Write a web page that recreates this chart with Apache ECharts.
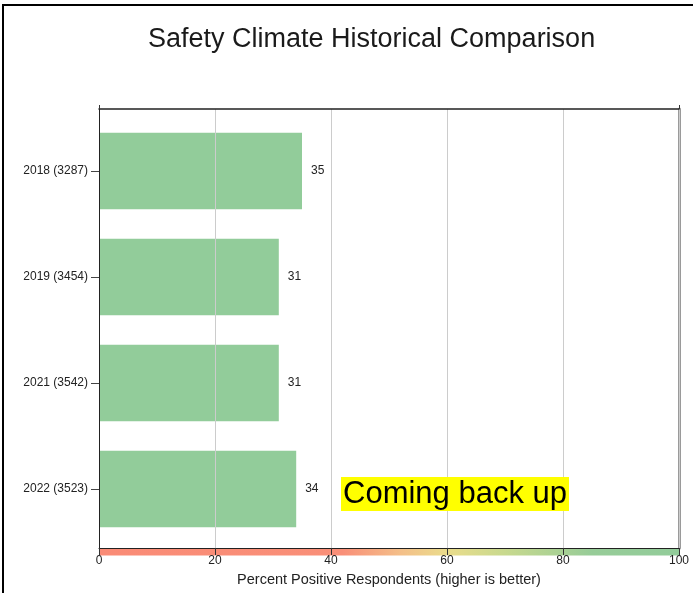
<!DOCTYPE html>
<html>
<head>
<meta charset="utf-8">
<script src="https://cdn.jsdelivr.net/npm/echarts@6/dist/echarts.min.js"></script>
<style>
  html, body { margin: 0; padding: 0; background: #fff; }
  #chart { width: 693px; height: 593px; }
</style>
</head>
<body>
<div id="chart"></div>
<script>
// Survey years with respondent counts, and percent positive per year
const categories = ['2018 (3287)', '2019 (3454)', '2021 (3542)', '2022 (3523)'];
const percentPositive = [35, 31, 31, 34];
const xTicks = [0, 20, 40, 60, 80, 100];

const FONT = '"Liberation Sans", Arial, sans-serif';
const chart = echarts.init(document.getElementById('chart'), null, { renderer: 'canvas' });

function scaleGradient() {
  return new echarts.graphic.LinearGradient(0, 0, 1, 0, [
    { offset: 0.0, color: '#fa8b76' },
    { offset: 0.42, color: '#f98f78' },
    { offset: 0.52, color: '#f4bf89' },
    { offset: 0.60, color: '#eadc8b' },
    { offset: 0.70, color: '#c8d98e' },
    { offset: 0.85, color: '#97cc98' },
    { offset: 1.0, color: '#92cc9a' }
  ]);
}

chart.setOption({
  animation: false,
  backgroundColor: '#fff',
  textStyle: { fontFamily: FONT },
  title: {
    text: 'Safety Climate Historical Comparison',
    left: 143,
    top: 21,
    textStyle: { fontFamily: FONT, fontSize: 27, fontWeight: 'normal', color: '#1a1a1a' }
  },
  grid: [
    // frame grid: axis lines, grid lines and colour strip
    { left: 99, right: 14, top: 109, bottom: 45, containLabel: false },
    // inner grid holding the bars
    { left: 99, right: 14, top: 118, bottom: 51, containLabel: false }
  ],
  xAxis: [
    {
      type: 'value',
      gridIndex: 0,
      position: 'bottom',
      min: 0, max: 100, interval: 20,
      axisLine: { show: true, onZero: false, lineStyle: { color: '#222', width: 1 } },
      axisTick: { show: true, length: 7, lineStyle: { color: '#333' } },
      axisLabel: {
        fontSize: 12, color: '#222', margin: 7,
        customValues: xTicks,
        formatter: v => String(v)
      },
      splitLine: { show: true, lineStyle: { color: '#cccccc', width: 1 } },
      name: 'Percent Positive Respondents (higher is better)',
      nameLocation: 'middle',
      nameGap: 24,
      nameTextStyle: { fontSize: 14.5, color: '#222', fontFamily: FONT },
      z: 4
    },
    {
      type: 'value',
      gridIndex: 0,
      position: 'top',
      min: 0, max: 100,
      axisLine: { show: true, onZero: false, lineStyle: { color: '#222', width: 1.5 } },
      axisTick: { show: true, length: 4, customValues: [0, 100], lineStyle: { color: '#333' } },
      axisLabel: { show: false },
      splitLine: { show: false },
      z: 4
    },
    {
      type: 'value',
      gridIndex: 1,
      min: 0, max: 100,
      show: false
    }
  ],
  yAxis: [
    {
      type: 'value',
      gridIndex: 0,
      position: 'left',
      min: 0, max: 1,
      axisLine: { show: true, onZero: false, lineStyle: { color: '#222', width: 1 } },
      axisTick: { show: false },
      axisLabel: { show: false },
      splitLine: { show: false },
      z: 4
    },
    {
      type: 'value',
      gridIndex: 0,
      position: 'right',
      min: 0, max: 1,
      axisLine: { show: true, onZero: false, lineStyle: { color: '#9a9a9a', width: 3 } },
      axisTick: { show: false },
      axisLabel: { show: false },
      splitLine: { show: false },
      z: 3
    },
    {
      type: 'category',
      gridIndex: 1,
      position: 'left',
      data: categories,
      inverse: true,
      axisLine: { show: false, onZero: false },
      axisTick: { show: true, length: 8, alignWithLabel: true, lineStyle: { color: '#444' } },
      axisLabel: { fontSize: 12, color: '#222', margin: 11 },
      splitLine: { show: false },
      z: 4
    }
  ],
  series: [{
    type: 'bar',
    xAxisIndex: 2,
    yAxisIndex: 2,
    data: percentPositive,
    barCategoryGap: '28%',
    itemStyle: { color: '#92cc9a' },
    label: {
      show: true,
      position: 'right',
      distance: 9,
      fontSize: 12,
      color: '#222',
      fontFamily: FONT
    },
    z: 2
  }]
});

// Colour scale strip just under the bottom axis, spanning 0..100 on the x scale
const x0 = chart.convertToPixel({ xAxisIndex: 0 }, 0);
const x1 = chart.convertToPixel({ xAxisIndex: 0 }, 100);
const yBase = chart.convertToPixel({ yAxisIndex: 0 }, 0);

chart.setOption({
  graphic: [
    {
      id: 'scale-strip',
      type: 'rect',
      shape: { x: x0, y: yBase + 0.5, width: x1 - x0, height: 7 },
      style: { fill: scaleGradient() },
      silent: true,
      z: 0
    },
    {
      id: 'frame',
      type: 'rect',
      shape: { x: 3, y: 5, width: 740, height: 640 },
      style: { fill: 'none', stroke: '#000', lineWidth: 2 },
      silent: true,
      z: 10
    },
    {
      id: 'note',
      type: 'text',
      left: 341,
      top: 477,
      style: {
        text: 'Coming back up',
        font: '31px "Liberation Sans", Arial, sans-serif',
        fill: '#000',
        backgroundColor: '#ffff00',
        padding: [2, 2, 1, 2]
      },
      z: 10
    }
  ]
});
</script>
</body>
</html>
